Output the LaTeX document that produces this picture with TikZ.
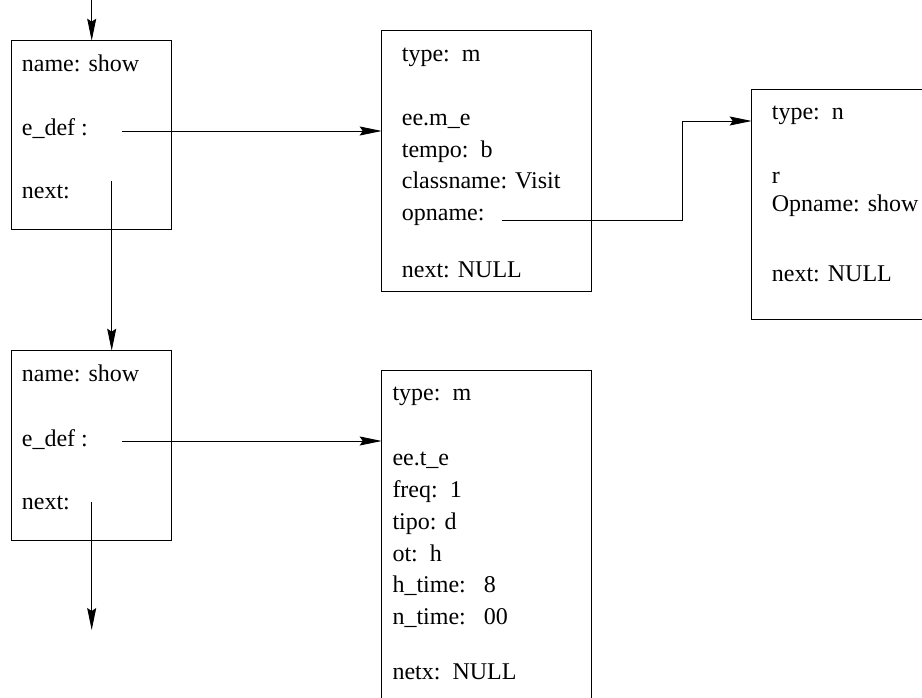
\documentclass[tikz,border=0pt]{standalone}
\usepackage{fontspec}
\setmainfont{Liberation Serif}
\usetikzlibrary{arrows.meta}
\begin{document}
\begin{tikzpicture}[x=1pt,y=-1pt,
  box/.style={draw,line width=1pt,inner sep=0pt,outer sep=0pt,anchor=north west},
  txt/.style={anchor=base west,inner sep=0pt,font=\fontsize{24}{28}\selectfont},
  link/.style={line width=0.9pt,-{Stealth[length=22pt,width=9pt,inset=3pt]}}]
\clip (0,0) rectangle (922,698);
% boxes
\node[box,minimum width=160pt,minimum height=189.3pt] (b1) at (11.7,40.7) {};
\node[box,minimum width=160pt,minimum height=190pt] (b2) at (11.7,350.7) {};
\node[box,minimum width=210pt,minimum height=261pt] (m1) at (381.7,30.7) {};
\node[box,minimum width=190pt,minimum height=229pt] (n1) at (751.7,90) {};
\node[box,minimum width=210pt,minimum height=345pt] (t1) at (381.7,370.7) {};
% texts box 1
\node[txt] (b1a) at (21.7,72) {name: show};
\node[txt] (b1b) at (21.7,136) {e\_def :};
\node[txt] (b1c) at (21.7,199) {next:};
% texts box 2
\node[txt] (b2a) at (21.7,381) {name: show};
\node[txt] (b2b) at (21.7,446) {e\_def :};
\node[txt] (b2c) at (21.7,509) {next:};
% texts m box
\node[txt] (m1a) at (401.7,62) {type:~~m};
\node[txt] (m1b) at (401.7,126) {ee.m\_e};
\node[txt] (m1c) at (401.7,157.5) {tempo:~~b};
\node[txt] (m1d) at (401.7,189) {classname: Visit};
\node[txt] (m1e) at (401.7,220.5) {opname:};
\node[txt] (m1f) at (401.7,277) {next: NULL};
% texts n box
\node[txt] (n1a) at (771.7,120) {type:~~n};
\node[txt] (n1b) at (771.7,184) {r};
\node[txt] (n1c) at (771.7,212) {Opname: show};
\node[txt] (n1d) at (771.7,281) {next: NULL};
% texts t box
\node[txt] (t1a) at (392.3,400) {type:~~m};
\node[txt] (t1b) at (392.3,465) {ee.t\_e};
\node[txt] (t1c) at (392.3,497) {freq:~~1};
\node[txt] (t1d) at (392.3,529) {tipo: d};
\node[txt] (t1e) at (392.3,561) {ot:~~h};
\node[txt] (t1f) at (392.3,592.5) {h\_time:~~~8};
\node[txt] (t1g) at (392.3,624) {n\_time:~~~00};
\node[txt] (t1h) at (392.3,679) {netx:~~NULL};
% connector end points
\coordinate (top) at (91.7,0);
\coordinate (e1) at (122,131);
\coordinate (x1) at (111.7,181);
\coordinate (e2) at (122,441);
\coordinate (x2) at (91.7,501.7);
\coordinate (x2end) at (91.7,630);
\coordinate (op) at (501.7,220);
\coordinate (bend) at (682.3,220);
% connectors
\draw[link] (top) -- (b1.north);
\draw[link] (e1) -- (e1 -| m1.west);
\draw[link] (x1) -- (x1 |- b2.north);
\draw[link] (e2) -- (e2 -| t1.west);
\draw[link] (x2) -- (x2end);
\draw[link] (op) -- (bend) |- (n1.west |- 0,121);
\end{tikzpicture}
\end{document}
